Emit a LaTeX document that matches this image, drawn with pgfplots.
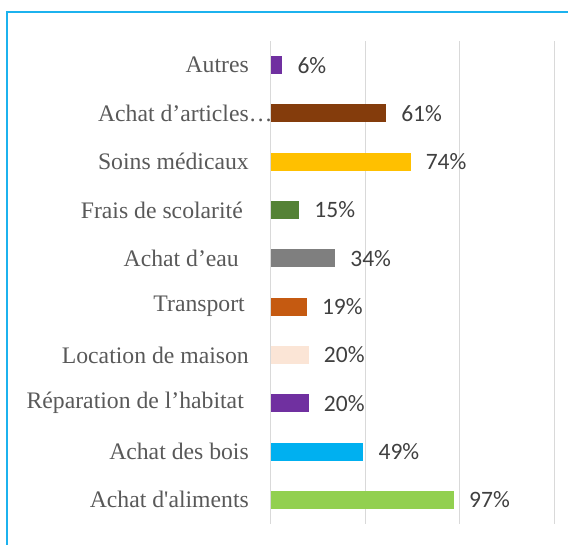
\documentclass[border=0pt]{standalone}
\usepackage{fontspec}
\setmainfont{Liberation Serif}
\newfontfamily\calib{Carlito}
\usepackage{pgfplots}
\pgfplotsset{compat=1.18}
\definecolor{c0}{HTML}{92D050}
\definecolor{c1}{HTML}{00B0F0}
\definecolor{c2}{HTML}{7030A0}
\definecolor{c3}{HTML}{FBE5D6}
\definecolor{c4}{HTML}{C55A11}
\definecolor{c5}{HTML}{7F7F7F}
\definecolor{c6}{HTML}{548235}
\definecolor{c7}{HTML}{FFC000}
\definecolor{c8}{HTML}{843C0C}
\definecolor{c9}{HTML}{7030A0}
\definecolor{framec}{HTML}{1CB2EE}
\definecolor{gridc}{HTML}{D9D9D9}
\definecolor{labc}{HTML}{595959}
\definecolor{numc}{HTML}{404040}
\newcommand{\sq}{\XeTeXglyph\XeTeXcharglyph"0027\relax}
\begin{document}
\begin{tikzpicture}[x=1pt,y=1pt]
\path[use as bounding box] (0,0) rectangle (568,545);
\draw[color=framec, line width=1.6pt] (7,-5) -- (7,533) -- (575,533);
\begin{axis}[
  at={(271pt,21pt)}, anchor=south west,
  scale only axis, width=283pt, height=483pt,
  xmin=0, xmax=150, ymin=-0.5, ymax=9.5,
  xtick={0,50,100,150}, xticklabels={},
  xmajorgrids, grid style={draw=gridc, line width=1pt},
  axis line style={draw=none},
  major tick length=0pt,
  ytick={0,...,9},
  yticklabels={Achat d\sq aliments, Achat des bois, Réparation de l’habitat\kern5pt, Location de maison, Transport\kern4pt, Achat d’eau\kern10pt, Frais de scolarité\kern6pt, Soins médicaux, Achat d’articles\rlap{…}, Autres},
  yticklabel style={anchor=east, inner sep=0pt, xshift=-22pt, font=\fontsize{23.7}{28}\selectfont, text=labc},
  xbar, bar width=18pt, bar shift=0pt,
  point meta=x,
  nodes near coords={\pgfmathprintnumber[assume math mode=true]{\pgfplotspointmeta}\%},
  every node near coord/.append style={anchor=west, inner sep=0pt, xshift=15pt, font=\calib\fontsize{23.5}{28}\selectfont, text=numc},
  clip=false]
\addplot[fill=c0, draw=none] coordinates {(97,0)};
\addplot[fill=c1, draw=none] coordinates {(49,1)};
\addplot[fill=c2, draw=none] coordinates {(20,2)};
\addplot[fill=c3, draw=none] coordinates {(20,3)};
\addplot[fill=c4, draw=none] coordinates {(19,4)};
\addplot[fill=c5, draw=none] coordinates {(34,5)};
\addplot[fill=c6, draw=none] coordinates {(15,6)};
\addplot[fill=c7, draw=none] coordinates {(74,7)};
\addplot[fill=c8, draw=none] coordinates {(61,8)};
\addplot[fill=c9, draw=none] coordinates {(6,9)};
\end{axis}
\end{tikzpicture}
\end{document}
